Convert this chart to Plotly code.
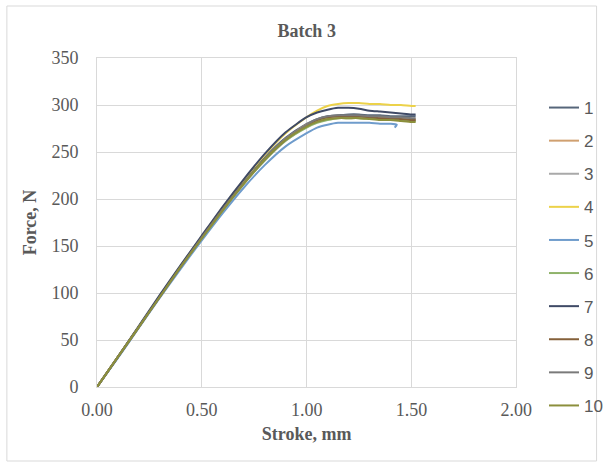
import plotly.graph_objects as go

# ---- data ----
stroke = [0.0, 0.1, 0.2, 0.3, 0.4, 0.5, 0.6, 0.7, 0.8, 0.9, 1.0, 1.05, 1.1, 1.15,
          1.2, 1.25, 1.3, 1.35, 1.4, 1.45, 1.5, 1.52]
stroke_5 = [0.0, 0.1, 0.2, 0.3, 0.4, 0.5, 0.6, 0.7, 0.8, 0.9, 1.0, 1.05, 1.1, 1.15,
            1.2, 1.25, 1.3, 1.35, 1.4, 1.43, 1.42]

force_1 = [0, 32, 64, 97, 129, 160, 190, 218, 244, 265, 280, 285, 288, 289, 290, 290, 289, 289, 288, 288, 288, 288]
force_2 = [0, 32, 64, 96, 128, 158, 188, 216, 242, 264, 279, 284, 287, 288, 288, 288, 287, 287, 286, 286, 285, 285]
force_3 = [0, 32, 64, 96, 128, 158, 188, 216, 241, 262, 277, 282, 285, 287, 287, 287, 286, 286, 285, 285, 284, 284]
force_4 = [0, 32, 64, 97, 129, 160, 191, 220, 247, 270, 287, 294, 299, 301, 302, 302, 301, 301, 300, 300, 299, 299]
force_5 = [0, 31, 63, 95, 126, 156, 185, 212, 236, 256, 270, 276, 279, 281, 281, 281, 281, 280, 280, 279, 276]
force_6 = [0, 32, 64, 96, 128, 158, 188, 216, 241, 262, 276, 281, 284, 286, 286, 286, 285, 285, 284, 284, 283, 283]
force_7 = [0, 32, 65, 98, 130, 161, 192, 221, 248, 271, 287, 292, 295, 297, 297, 296, 294, 293, 292, 291, 290, 290]
force_8 = [0, 32, 64, 96, 128, 159, 189, 217, 242, 263, 278, 284, 287, 288, 288, 288, 287, 286, 286, 285, 284, 284]
force_9 = [0, 32, 64, 96, 128, 159, 189, 217, 243, 264, 279, 285, 288, 289, 289, 289, 288, 288, 287, 287, 286, 286]
force_10 = [0, 32, 64, 96, 128, 158, 188, 216, 242, 263, 277, 282, 285, 286, 286, 286, 285, 284, 284, 283, 282, 282]

names = ["1", "2", "3", "4", "5", "6", "7", "8", "9", "10"]
xs = [stroke, stroke, stroke, stroke, stroke_5, stroke, stroke, stroke, stroke, stroke]
ys = [force_1, force_2, force_3, force_4, force_5, force_6, force_7, force_8, force_9, force_10]
colors = ["#56667a", "#d0a070", "#a9a9a9", "#ecd24a", "#6f9ccc", "#8fb36a",
          "#3f4a66", "#85603a", "#7a7a7a", "#8c8f3c"]

x_ticks = [0.0, 0.5, 1.0, 1.5, 2.0]
y_ticks = [0, 50, 100, 150, 200, 250, 300, 350]

fig = go.Figure()
for n, x, y, c in zip(names, xs, ys, colors):
    fig.add_trace(go.Scatter(x=x, y=y, mode="lines", name=n, legendgroup=n,
                             line=dict(color=c, width=2, shape="spline", smoothing=0.6)))

serif = "Liberation Serif, Times New Roman, serif"
grid = "#d9d9d9"
txt = "#595959"

fig.update_layout(
    width=612, height=466,
    margin=dict(l=97, r=87, t=58, b=79),
    paper_bgcolor="white", plot_bgcolor="white",
    title=dict(text="<b>Batch 3</b>", x=0.5, xref="paper", xanchor="center",
               y=1 - 31 / 466, yanchor="middle",
               font=dict(family=serif, size=18, color=txt)),
    xaxis=dict(range=[0, 2], tickvals=x_ticks, tickformat=".2f",
               showgrid=True, gridcolor=grid, gridwidth=1, zeroline=False,
               showline=True, linecolor=grid, mirror=True, ticks="",
               ticklabelstandoff=6,
               tickfont=dict(family=serif, size=18, color=txt),
               title=dict(text="<b>Stroke, mm</b>", standoff=8,
                          font=dict(family=serif, size=18, color=txt))),
    yaxis=dict(range=[0, 350], tickvals=y_ticks,
               showgrid=True, gridcolor=grid, gridwidth=1, zeroline=False,
               showline=True, linecolor=grid, mirror=True, ticks="",
               ticklabelstandoff=14,
               tickfont=dict(family=serif, size=18, color=txt),
               title=dict(text="<b>Force, N</b>", standoff=10,
                          font=dict(family=serif, size=18, color=txt))),
    legend=dict(xref="container", x=544 / 612, xanchor="left",
                yref="container", y=1 - 90 / 466, yanchor="top",
                font=dict(family="Liberation Sans, Arial, sans-serif", size=17, color=txt),
                tracegroupgap=8, bgcolor="rgba(0,0,0,0)", itemwidth=30, maxheight=440),
    shapes=[dict(type="rect", xref="paper", yref="paper",
                 x0=-92 / 428, x1=510 / 428, y0=-74 / 329, y1=381 / 329,
                 line=dict(color="#d9d9d9", width=1), fillcolor="rgba(0,0,0,0)",
                 layer="below")],
)

fig.write_html("out.html")
